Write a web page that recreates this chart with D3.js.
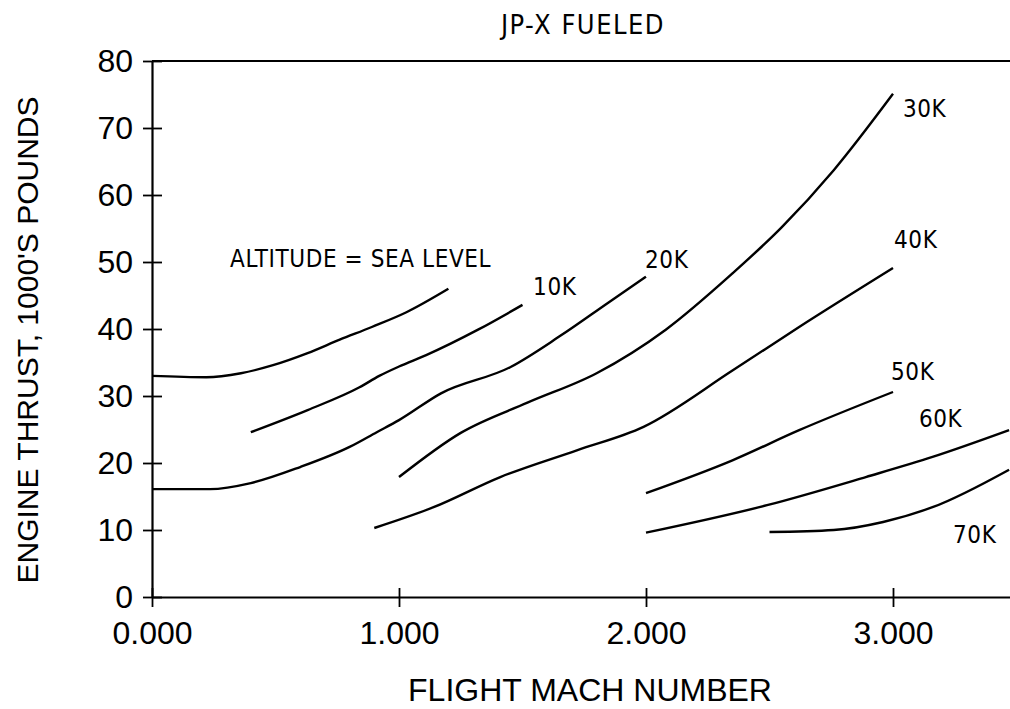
<!DOCTYPE html>
<html lang="en">
    <head>
        <meta charset="utf-8">
        <title>JP-X Fueled Engine Thrust</title>
        <script src="https://d3js.org/d3.v7.min.js"></script>
        <style type="text/css">
          body { margin: 0; background: #fff; }
          .tick text { font-family: "Liberation Sans", Arial, sans-serif; font-size: 32px; fill: #000; }
          .axis-title { font-family: "Liberation Sans", Arial, sans-serif; font-size: 32px; fill: #000; }
          .plot-label { font-family: "DejaVu Sans Condensed", "DejaVu Sans", sans-serif; font-stretch: condensed; font-size: 24px; letter-spacing: 0.6px; fill: #000; }
        </style>
    </head>
    <body>
        <svg width="1010" height="709"></svg>
        <script type="text/javascript">

            // altitude curves: mach number vs thrust (1000's lb)
            const machSeaLevel   = [0.00, 0.22, 0.36, 0.49, 0.63, 0.76, 0.89, 1.03, 1.20];
            const thrustSeaLevel = [33.0, 32.8, 33.4, 34.6, 36.4, 38.4, 40.3, 42.5, 46.0];

            const mach10K   = [0.40, 0.63, 0.84, 0.92, 1.00, 1.11, 1.32, 1.50];
            const thrust10K = [24.6, 27.9, 31.3, 33.0, 34.4, 36.1, 39.9, 43.6];

            const mach20K   = [0.00, 0.235, 0.40, 0.60, 0.80, 0.91, 1.00, 1.17, 1.45, 1.65, 1.85, 2.00];
            const thrust20K = [16.1, 16.1, 17.0, 19.4, 22.4, 24.6, 26.4, 30.4, 34.3, 38.9, 44.0, 47.8];

            const mach30K   = [1.00, 1.25, 1.52, 1.80, 2.08, 2.35, 2.55, 2.76, 3.00];
            const thrust30K = [17.9, 24.5, 29.0, 33.4, 39.9, 48.3, 55.2, 63.7, 75.1];

            const mach40K   = [0.90, 1.14, 1.41, 1.72, 1.99, 2.35, 2.62, 3.00];
            const thrust40K = [10.3, 13.4, 17.9, 21.9, 25.4, 33.8, 40.3, 49.1];

            const mach50K   = [2.00, 2.35, 2.62, 3.00];
            const thrust50K = [15.5, 20.4, 24.9, 30.6];

            const mach60K   = [2.00, 2.49, 2.89, 3.16, 3.47];
            const thrust60K = [9.6, 13.7, 17.9, 20.9, 24.9];

            const mach70K   = [2.50, 2.76, 2.96, 3.16, 3.47];
            const thrust70K = [9.7, 10.0, 11.2, 13.4, 19.0];

            // curve labels (mach, thrust of label start)
            const labelText   = ["ALTITUDE = SEA LEVEL", "10K", "20K", "30K", "40K", "50K", "60K", "70K"];
            const labelMach   = [0.316, 1.543, 1.996, 3.04, 3.004, 2.992, 3.105, 3.243];
            const labelThrust = [49.25, 45.1, 49.1, 71.6, 52.1, 32.4, 25.4, 8.06];

            const xTicks = [0, 1, 2, 3];
            const yTicks = [0, 10, 20, 30, 40, 50, 60, 70, 80];

            const svg = d3.select("svg");
            const w = 1010, h = 709;

            svg.append("rect").attr("width", w).attr("height", h).attr("fill", "#fff");

            const x = d3.scaleLinear().domain([0, 3.5]).range([152, 1016.5]);
            const y = d3.scaleLinear().domain([0, 80]).range([597, 61]);

            const curves = [
              [machSeaLevel, thrustSeaLevel],
              [mach10K, thrust10K],
              [mach20K, thrust20K],
              [mach30K, thrust30K],
              [mach40K, thrust40K],
              [mach50K, thrust50K],
              [mach60K, thrust60K],
              [mach70K, thrust70K]
            ].map(c => c[0].map((m, i) => ({mach: m, thrust: c[1][i]})));

            // top border line
            svg.append("line")
               .attr("x1", x(0)).attr("x2", x(3.5))
               .attr("y1", y(80)).attr("y2", y(80))
               .style("stroke", "#000").style("stroke-width", 2.2);

            // axes
            const xAxis = svg.append("g")
               .attr("transform", `translate(0,${y(0)})`)
               .call(d3.axisBottom(x).tickValues(xTicks).tickFormat(d3.format(".3f")).tickSize(10).tickSizeOuter(0).tickPadding(14));
            xAxis.selectAll(".tick line").attr("y1", -9).style("stroke-width", 1.8);
            xAxis.select(".domain").style("stroke-width", 2.2);

            const yAxis = svg.append("g")
               .attr("transform", `translate(${x(0)},0)`)
               .call(d3.axisLeft(y).tickValues(yTicks).tickSize(9).tickSizeOuter(0).tickPadding(10));
            yAxis.selectAll(".tick line").attr("x1", 10).style("stroke-width", 1.8);
            yAxis.select(".domain").style("stroke-width", 2.2);

            // curves
            const line = d3.line()
               .x(d => x(d.mach))
               .y(d => y(d.thrust))
               .curve(d3.curveMonotoneX);

            svg.selectAll(".curve")
               .data(curves)
               .enter()
               .append("path")
               .attr("class", "curve")
               .attr("d", line)
               .style("fill", "none")
               .style("stroke", "#000")
               .style("stroke-width", 2.4);

            // curve labels
            svg.selectAll(".plot-label.curve-lab")
               .data(labelText)
               .enter()
               .append("text")
               .attr("class", "plot-label curve-lab")
               .attr("x", (d, i) => x(labelMach[i]))
               .attr("y", (d, i) => y(labelThrust[i]))
               .text(d => d);

            // title
            svg.append("text")
               .attr("class", "plot-label")
               .attr("x", 583)
               .attr("y", 34)
               .attr("text-anchor", "middle")
               .style("font-size", "27px")
               .style("letter-spacing", "1.5px")
               .text("JP-X FUELED");

            svg.append("text")
               .attr("class", "axis-title")
               .attr("x", 590)
               .attr("y", 701)
               .attr("text-anchor", "middle")
               .text("FLIGHT MACH NUMBER");

            svg.append("text")
               .attr("class", "axis-title")
               .attr("transform", `translate(38,340) rotate(-90)`)
               .attr("text-anchor", "middle")
               .style("font-size", "30px")
               .text("ENGINE THRUST, 1000'S POUNDS");

        </script>
    </body>
</html>
